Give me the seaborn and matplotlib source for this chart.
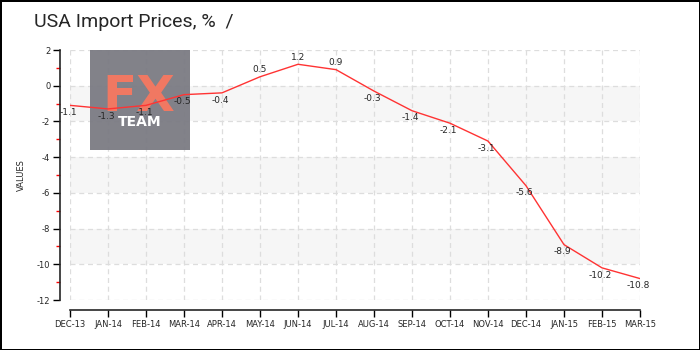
import matplotlib
matplotlib.use("Agg")
import matplotlib.pyplot as plt
import seaborn as sns
import pandas as pd
from matplotlib.patches import Rectangle

months = ["DEC-13", "JAN-14", "FEB-14", "MAR-14", "APR-14", "MAY-14", "JUN-14", "JUL-14",
          "AUG-14", "SEP-14", "OCT-14", "NOV-14", "DEC-14", "JAN-15", "FEB-15", "MAR-15"]
values = [-1.1, -1.3, -1.1, -0.5, -0.4, 0.5, 1.2, 0.9, -0.3, -1.4, -2.1, -3.1, -5.6, -8.9, -10.2, -10.8]
y_ticks = [2, 0, -2, -4, -6, -8, -10, -12]
y_minor = [1, -1, -3, -5, -7, -9, -11]
bands = [(0, -2), (-4, -6), (-8, -10)]

df = pd.DataFrame({"pos": range(len(months)), "value": values})

sns.set_style("white")
plt.rcParams["font.family"] = ["DejaVu Sans"]

fig = plt.figure(figsize=(7, 3.5), dpi=100)
fig.patch.set_edgecolor("black")
fig.patch.set_linewidth(2)

ax = fig.add_axes([70 / 700, 50 / 350, 570 / 700, 250 / 350])

for top, bot in bands:
    ax.axhspan(bot, top, color="#f6f6f6", zorder=0, lw=0)

# logo box: above grid, below the data line
logo = Rectangle((90 / 700, 1 - 150 / 350), 100 / 700, 100 / 350, transform=fig.transFigure,
                 facecolor="#7b7b83", edgecolor="none", alpha=0.95, zorder=2, clip_on=False)
ax.add_artist(logo)
ax.text(139 / 700, 1 - 111 / 350, "FX", color="#f07862", fontsize=36, fontweight="bold",
        ha="center", va="baseline", zorder=2.2, transform=fig.transFigure)
ax.text(140 / 700, 1 - 122 / 350, "TEAM", color="white", fontsize=10, fontweight="bold",
        ha="center", va="center", zorder=2.2, transform=fig.transFigure)

sns.lineplot(data=df, x="pos", y="value", ax=ax, color="#ff3333", linewidth=1, zorder=3)

for i, v in enumerate(values):
    if v >= 0:
        ax.annotate(f"{v:g}", (i, v), xytext=(0, 2), textcoords="offset points",
                    ha="center", va="bottom", fontsize=6.5, zorder=5)
    else:
        ax.annotate(f"{v:g}", (i, v), xytext=(-1, -2), textcoords="offset points",
                    ha="center", va="top", fontsize=6.5, zorder=5)

ax.set_xlim(0, len(months) - 1)
ax.set_ylim(-12, 2)
ax.set_xticks(range(len(months)))
ax.set_xticklabels(months)
ax.set_yticks(y_ticks)
ax.set_yticklabels([str(t) for t in y_ticks])
ax.set_yticks(y_minor, minor=True)
ax.tick_params(axis="y", which="minor", length=3, color="red", width=1, direction="out", left=True)
ax.tick_params(axis="both", which="major", length=5, width=1, color="black", direction="out",
               left=True, bottom=True, pad=2, labelsize=6)
ax.grid(True, which="major", linestyle=(0, (4, 3)), color="#dddddd", linewidth=0.9)
ax.set_axisbelow(True)
ax.set_xlabel("")
ax.set_ylabel("VALUES", fontsize=6, labelpad=8)

for s in ["top", "right"]:
    ax.spines[s].set_visible(False)
ax.spines["left"].set_position(("outward", 7.2))
ax.spines["bottom"].set_position(("outward", 7.2))
ax.spines["left"].set_linewidth(1.2)
ax.spines["bottom"].set_linewidth(1.2)

fig.text(34 / 700, 1 - 22 / 350, "USA Import Prices, %  /", fontsize=14, ha="left", va="center",
         family=["Liberation Sans Narrow", "Roboto", "DejaVu Sans"])

fig.savefig("out.png", dpi=100, edgecolor=fig.get_edgecolor())
